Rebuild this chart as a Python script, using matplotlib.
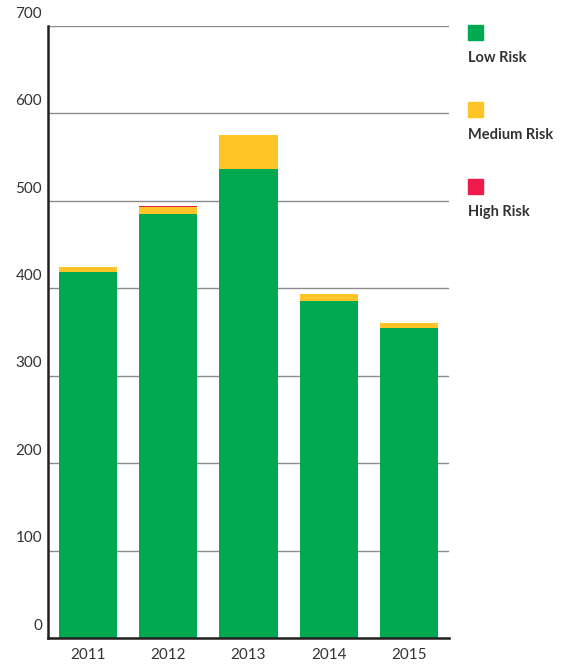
import matplotlib.pyplot as plt
import numpy as np

# values
years = ['2011', '2012', '2013', '2014', '2015']
low_risk = [419, 485, 536, 386, 355]
medium_risk = [5, 8, 39, 8, 5]
high_risk = [0, 0.6, 0.6, 0, 0.4]

series_names = ['Low Risk', 'Medium Risk', 'High Risk']
colors = ['#00A84F', '#FFC425', '#ED1A4B']

plt.rcParams['font.family'] = ['Lato', 'DejaVu Sans']

fig = plt.figure(figsize=(5.62, 6.64), dpi=100)
ax = fig.add_axes([48 / 562, 26 / 664, 401 / 562, 612 / 664])

x = np.arange(len(years))
low = np.array(low_risk, dtype=float)
med = np.array(medium_risk, dtype=float)
high = np.array(high_risk, dtype=float)

ax.bar(x, low, width=0.725, color=colors[0], zorder=3)
ax.bar(x, med, bottom=low, width=0.725, color=colors[1], zorder=3)
ax.bar(x, high, bottom=low + med, width=0.725, color=colors[2], zorder=3)

ax.set_xlim(-0.5, 4.5)
ax.set_ylim(0, 700)
ax.set_yticks(range(0, 701, 100))
ax.yaxis.grid(True, color='#8c8c8c', linewidth=1.0, zorder=0)
ax.set_axisbelow(True)

for s in ['top', 'right']:
    ax.spines[s].set_visible(False)
for s in ['left', 'bottom']:
    ax.spines[s].set_color('#231f20')
    ax.spines[s].set_linewidth(1.8)
    ax.spines[s].set_zorder(4)

ax.tick_params(axis='both', length=0, labelsize=11, colors='#333333')
ax.set_xticks(x)
ax.set_xticklabels(years)
ax.tick_params(axis='x', pad=7)
ax.set_yticklabels([])
for v in range(0, 701, 100):
    ax.text(-0.015, v + 6, str(v), transform=ax.get_yaxis_transform(),
            ha='right', va='bottom', fontsize=11, color='#333333')

# legend drawn as squares with labels underneath
for i, (name, c) in enumerate(zip(series_names, colors)):
    top = 25 + i * 77
    fig.patches.append(plt.Rectangle((468 / 562, 1 - (top + 15) / 664), 15 / 562, 15 / 664,
                                     transform=fig.transFigure, color=c, figure=fig))
    fig.text(468 / 562, 1 - (top + 33) / 664, name, ha='left', va='center',
             fontsize=10.5, fontweight='bold', color='#333333')

fig.savefig('out.png', dpi=100)
